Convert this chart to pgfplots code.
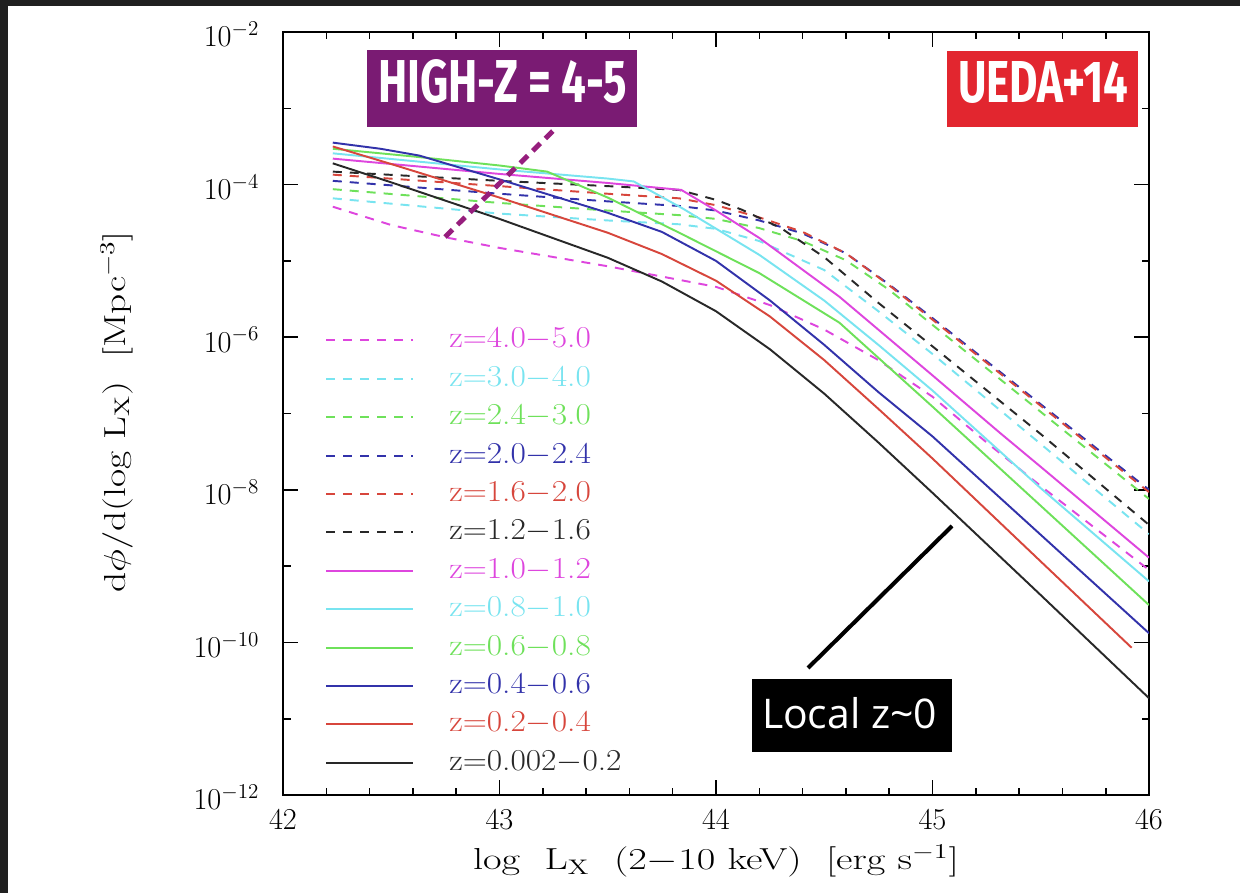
\documentclass[border=0pt]{standalone}
\usepackage{pgfplots}
\pgfplotsset{compat=1.18}
\usepackage{graphicx}
\usepackage{fontspec}
\newfontfamily\tagfont{Fira Sans}
\newfontfamily\notefont{Open Sans}

\definecolor{frame}{RGB}{32,32,32}
\definecolor{zblk}{RGB}{40,40,40}
\definecolor{zred}{RGB}{215,70,60}
\definecolor{zblu}{RGB}{50,50,170}
\definecolor{zgrn}{RGB}{110,225,90}
\definecolor{zcyn}{RGB}{120,228,240}
\definecolor{zmag}{RGB}{222,70,222}
\definecolor{hzbox}{RGB}{122,27,115}
\definecolor{hzline}{RGB}{150,30,125}
\definecolor{uedabox}{RGB}{226,38,47}

\newcommand{\wide}[1]{\scalebox{1.1}[1]{#1}}
\newcommand{\zlab}[2]{\textcolor{#1}{\wide{z=#2}}}

\begin{document}
\begin{tikzpicture}
\path[use as bounding box, fill=white] (0,0) rectangle (24.8,17.86);
\fill[frame] (0,17.74) rectangle (24.8,17.86);
\fill[frame] (0,0) rectangle (0.16,17.86);

\begin{axis}[
  at={(5.66cm,1.96cm)}, anchor=south west,
  width=17.32cm, height=15.26cm, scale only axis,
  xmin=42, xmax=46, ymode=log, ymin=1e-12, ymax=1e-2,
  xtick={42,43,44,45,46}, minor x tick num=4,
  ytick={1e-12,1e-10,1e-8,1e-6,1e-4,1e-2},
  minor ytick={1e-11,1e-9,1e-7,1e-5,1e-3},
  tick align=inside, major tick length=0.3cm, minor tick length=0.15cm,
  axis line style={line width=1.1pt},
  every tick/.style={black, line width=0.9pt},
  tick label style={font=\LARGE},
  yticklabel style={xshift=-0.35cm, yshift=-0.05cm},
  xticklabel style={yshift=-0.18cm},
  every axis x label/.style={at={(rel axis cs:0.5,-0.087)}, anchor=center, font=\LARGE},
  every axis y label/.style={at={(rel axis cs:-0.192,0.502)}, rotate=90, anchor=center, font=\LARGE},
  xlabel={\scalebox{1.33}[1]{log\ \ L$_{\mathrm{X}}$\ \ (2$-$10 keV)\ \ [erg s$^{-1}$]}},
  ylabel={\scalebox{1.3}[1]{d$\phi$/d(log L$_{\mathrm{X}}$)\ \ [Mpc$^{-3}$]}},
  legend style={at={(rel axis cs:0.0485,0.614)}, anchor=north west, draw=none, fill=none,
    inner sep=0pt, font=\LARGE, row sep=0.228cm,
    nodes={inner sep=0pt, text height=0.42cm, text depth=0.12cm},
    /tikz/every odd column/.append style={column sep=0.7cm}},
  legend cell align=left,
  legend image code/.code={\draw[#1] (0cm,0cm) -- (1.74cm,0cm);},
  dashed line/.style={line width=1.1pt, dash pattern=on 0.18cm off 0.16cm},
  solid line/.style={line width=1.1pt},
]
% z=4.0-5.0
\addplot[zmag, dashed line] coordinates {(42.23,5.13e-5) (42.5,2.95e-5) (42.75,2.04e-5) (43.0,1.48e-5) (43.5,8.51e-6) (44.0,4.57e-6) (44.25,2.63e-6) (44.5,1.26e-6) (44.75,5.01e-7) (45.0,1.66e-7) (45.25,4.17e-8) (45.5,1.12e-8) (46.0,8.91e-10)};
\addlegendentry{\zlab{zmag}{4.0$-$5.0}}
% z=3.0-4.0
\addplot[zcyn, dashed line] coordinates {(42.23,6.61e-5) (43.0,4.17e-5) (43.5,3.39e-5) (43.83,3.02e-5) (44.0,2.63e-5) (44.2,1.82e-5) (44.5,7.59e-6) (44.75,2.19e-6) (45.0,6.03e-7) (45.5,3.98e-8) (46.0,2.63e-9)};
\addlegendentry{\zlab{zcyn}{3.0$-$4.0}}
% z=2.4-3.0
\addplot[zgrn, dashed line] coordinates {(42.23,8.71e-5) (43.0,5.75e-5) (43.5,4.57e-5) (43.83,3.98e-5) (44.0,3.55e-5) (44.2,2.69e-5) (44.4,1.82e-5) (44.6,1.02e-5) (44.8,4.17e-6) (45.0,1.45e-6) (45.5,1.05e-7) (46.0,7.59e-9)};
\addlegendentry{\zlab{zgrn}{2.4$-$3.0}}
% z=2.0-2.4
\addplot[zblu, dashed line] coordinates {(42.23,1.12e-4) (43.0,7.59e-5) (43.5,6.03e-5) (43.83,5.25e-5) (44.0,4.57e-5) (44.2,3.39e-5) (44.4,2.29e-5) (44.6,1.26e-5) (44.8,4.90e-6) (45.0,1.78e-6) (45.5,1.32e-7) (46.0,1.0e-8)};
\addlegendentry{\zlab{zblu}{2.0$-$2.4}}
% z=1.6-2.0
\addplot[zred, dashed line] coordinates {(42.23,1.35e-4) (43.0,9.55e-5) (43.5,7.59e-5) (43.83,6.61e-5) (44.0,5.37e-5) (44.2,3.72e-5) (44.4,2.40e-5) (44.6,1.26e-5) (44.8,4.79e-6) (45.0,1.70e-6) (45.5,1.26e-7) (46.0,9.33e-9)};
\addlegendentry{\zlab{zred}{1.6$-$2.0}}
% z=1.2-1.6
\addplot[zblk, dashed line] coordinates {(42.23,1.48e-4) (43.0,1.12e-4) (43.5,9.55e-5) (43.83,8.51e-5) (44.0,6.31e-5) (44.12,4.68e-5) (44.3,2.69e-5) (44.5,1.12e-5) (44.75,2.82e-6) (45.0,7.59e-7) (45.5,5.37e-8) (46.0,3.47e-9)};
\addlegendentry{\zlab{zblk}{1.2$-$1.6}}
% z=1.0-1.2
\addplot[zmag, solid line] coordinates {(42.23,2.19e-4) (43.0,1.38e-4) (43.5,1.05e-4) (43.84,8.51e-5) (44.0,4.57e-5) (44.2,2.0e-5) (44.57,3.39e-6) (45.0,3.16e-7) (45.31,5.62e-8) (45.5,2.0e-8) (46.0,1.29e-9)};
\addlegendentry{\zlab{zmag}{1.0$-$1.2}}
% z=0.8-1.0
\addplot[zcyn, solid line] coordinates {(42.23,2.57e-4) (43.0,1.58e-4) (43.5,1.20e-4) (43.62,1.10e-4) (43.85,4.79e-5) (44.2,1.20e-5) (44.5,3.02e-6) (44.75,7.94e-7) (45.0,2.0e-7) (45.5,1.05e-8) (46.0,6.31e-10)};
\addlegendentry{\zlab{zcyn}{0.8$-$1.0}}
% z=0.6-0.8
\addplot[zgrn, solid line] coordinates {(42.23,2.95e-4) (42.6,2.34e-4) (43.0,1.78e-4) (43.22,1.48e-4) (43.5,6.76e-5) (43.83,2.34e-5) (44.2,6.92e-6) (44.57,1.55e-6) (45.0,1.23e-7) (45.5,6.17e-9) (46.0,3.09e-10)};
\addlegendentry{\zlab{zgrn}{0.6$-$0.8}}
% z=0.4-0.6
\addplot[zblu, solid line] coordinates {(42.23,3.55e-4) (42.45,2.95e-4) (42.63,2.40e-4) (43.0,1.17e-4) (43.5,4.27e-5) (43.75,2.40e-5) (44.0,1.0e-5) (44.25,3.02e-6) (44.5,7.94e-7) (44.75,1.91e-7) (45.0,5.01e-8) (45.5,2.57e-9) (46.0,1.32e-10)};
\addlegendentry{\zlab{zblu}{0.4$-$0.6}}
% z=0.2-0.4
\addplot[zred, solid line] coordinates {(42.23,3.16e-4) (42.5,1.86e-4) (43.0,6.76e-5) (43.5,2.34e-5) (43.75,1.23e-5) (44.0,5.50e-6) (44.25,1.86e-6) (44.5,5.01e-7) (44.75,1.15e-7) (45.0,2.57e-8) (45.5,1.15e-9) (45.92,8.51e-11)};
\addlegendentry{\zlab{zred}{0.2$-$0.4}}
% z=0.002-0.2
\addplot[zblk, solid line] coordinates {(42.23,1.90e-4) (42.5,1.07e-4) (43.0,3.55e-5) (43.5,1.10e-5) (43.75,5.37e-6) (44.0,2.19e-6) (44.25,6.92e-7) (44.5,1.82e-7) (44.75,4.17e-8) (45.0,9.12e-9) (45.5,4.17e-10) (46.0,1.86e-11)};
\addlegendentry{\zlab{zblk}{0.002$-$0.2}}
\end{axis}

% annotations
\draw[hzline, line width=2.8pt, dash pattern=on 6pt off 4pt] (8.9,13.12) -- (11.14,15.32);
\fill[hzbox] (7.34,15.32) rectangle (12.74,16.86);
\node[white, inner sep=0pt] at (10.05,16.23) {\resizebox{4.98cm}{0.86cm}{\tagfont\bfseries HIGH-Z = 4-5}};
\fill[uedabox] (18.94,15.32) rectangle (22.76,16.84);
\node[white, inner sep=0pt] at (20.86,16.21) {\resizebox{3.4cm}{0.82cm}{\tagfont\bfseries UEDA+14}};
\draw[black, line width=2.3pt] (16.16,4.5) -- (19.04,7.34);
\fill[black] (15.04,2.82) rectangle (19.04,4.28);
\node[white, inner sep=0pt] at (16.99,3.6) {\resizebox{3.5cm}{!}{\notefont\fontsize{23}{26}\selectfont Local z\textasciitilde 0}};
\end{tikzpicture}
\end{document}
